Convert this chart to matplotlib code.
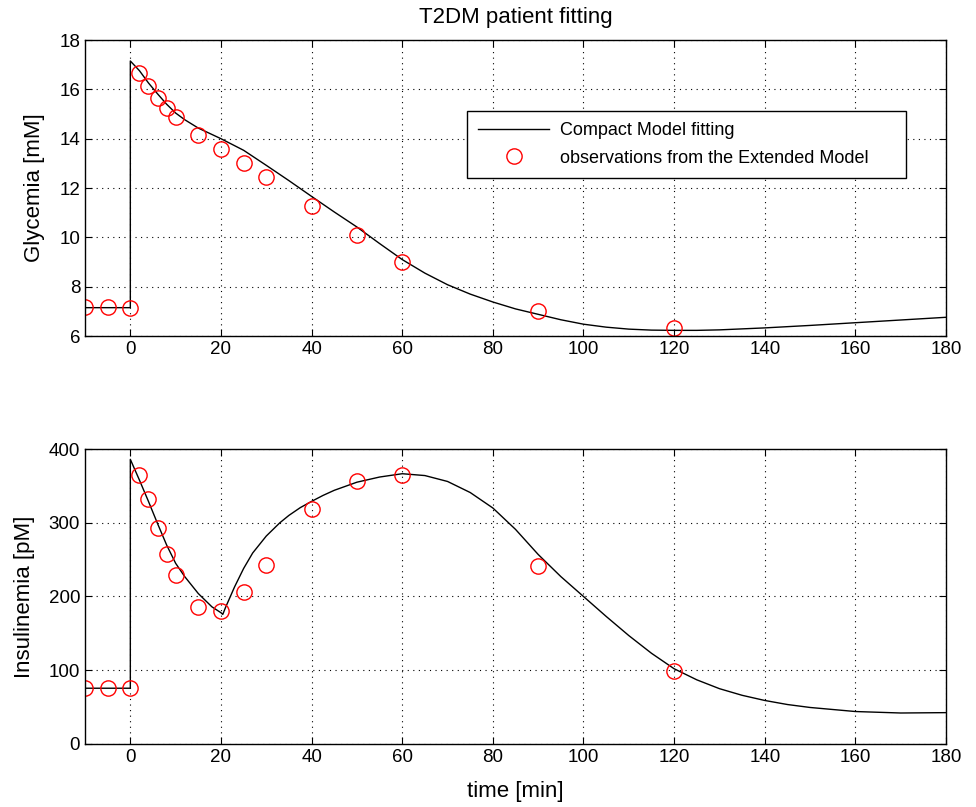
import matplotlib.pyplot as plt

plt.rcParams['font.family'] = ['Liberation Sans', 'DejaVu Sans']

# observation times (Extended Model samples)
obs_t = [-10, -5, 0, 2, 4, 6, 8, 10, 15, 20, 25, 30, 40, 50, 60, 90, 120]
obs_glu = [7.19, 7.17, 7.13, 16.67, 16.13, 15.65, 15.23, 14.86, 14.14, 13.57, 13.03, 12.45,
           11.27, 10.08, 9.01, 7.0, 6.31]
obs_ins = [76.5, 76.0, 75.6, 364.5, 332.5, 292.5, 257.5, 228.5, 185.5, 180.5, 206.0, 243.0,
           318.5, 357.0, 364.7, 240.7, 98.6]

# Compact Model fitted curves
fit_t = [-10, 0, 0, 2, 4, 6, 8, 10, 12, 15, 20, 25, 30, 35, 40, 45, 50, 55, 60, 65, 70,
         75, 80, 85, 90, 95, 100, 105, 110, 115, 120, 125, 130, 140, 150, 160, 170, 180]
fit_glu = [7.15, 7.15, 17.15, 16.76, 16.26, 15.82, 15.4, 15.04, 14.77, 14.43, 14.0, 13.53,
           12.92, 12.3, 11.66, 11.03, 10.42, 9.75, 9.1, 8.55, 8.08, 7.7, 7.38, 7.1, 6.88,
           6.66, 6.48, 6.36, 6.28, 6.24, 6.23, 6.23, 6.25, 6.33, 6.43, 6.54, 6.65, 6.76]

fit_t2 = [-10, 0, 0, 2, 4, 6, 8, 10, 12, 15, 18, 20, 20.4, 21, 22, 23, 25, 27, 30, 33, 35,
          37.5, 40, 42.5, 45, 50, 55, 60, 65, 70, 75, 80, 85, 90, 95, 100, 105, 110, 115,
          120, 125, 130, 135, 140, 145, 150, 160, 170, 180]
fit_ins = [75.6, 75.6, 386, 358, 329, 299, 270, 245, 227, 204, 186, 178, 175.7, 185, 199,
           213, 238, 259, 282, 300, 310, 320.5, 329, 337, 344, 355, 362, 366.5, 364, 356,
           341, 320, 291, 257, 227, 200, 173, 147, 123, 102, 87, 75, 66, 59, 53.5, 49.5,
           44, 42, 42.5]

fig = plt.figure(figsize=(9.76, 8.07), dpi=100)
ax1 = fig.add_axes([0.0871, 0.5836, 0.8822, 0.3668])
ax2 = fig.add_axes([0.0871, 0.0781, 0.8822, 0.3655])

for ax in (ax1, ax2):
    ax.grid(True, color='black', linestyle=(0, (1, 4)), linewidth=0.8)
    ax.tick_params(direction='in', top=True, right=True, labelsize=13.5, length=5)
    ax.set_xlim(-10, 180)
    ax.set_xticks(range(0, 181, 20))
    for s in ax.spines.values():
        s.set_linewidth(1.0)

ax1.plot(fit_t, fit_glu, color='black', lw=1.0, label='Compact Model fitting')
ax1.plot(obs_t, obs_glu, 'o', mfc='none', mec='red', ms=11, mew=1.0,
         label='observations from the Extended Model')
ax1.set_ylim(6, 18)
ax1.set_yticks(range(6, 19, 2))
ax1.set_ylabel('Glycemia [mM]', fontsize=16, labelpad=10)
ax1.set_title('T2DM patient fitting', fontsize=16, pad=12)
leg = ax1.legend(loc='upper left', bbox_to_anchor=(0.4437, 0.5, 0.5098, 0.26),
                 mode='expand', borderaxespad=0, fontsize=13, frameon=True,
                 fancybox=False, edgecolor='black', framealpha=1, handlelength=3.95,
                 handletextpad=0.6, borderpad=0.6, labelspacing=0.6)
leg.get_frame().set_linewidth(1.0)

ax2.plot(fit_t2, fit_ins, color='black', lw=1.0)
ax2.plot(obs_t, obs_ins, 'o', mfc='none', mec='red', ms=11, mew=1.0)
ax2.set_ylim(0, 400)
ax2.set_yticks(range(0, 401, 100))
ax2.set_ylabel('Insulinemia [pM]', fontsize=16, labelpad=10)
ax2.set_xlabel('time [min]', fontsize=16, labelpad=11)

fig.savefig('out.png', dpi=100)
